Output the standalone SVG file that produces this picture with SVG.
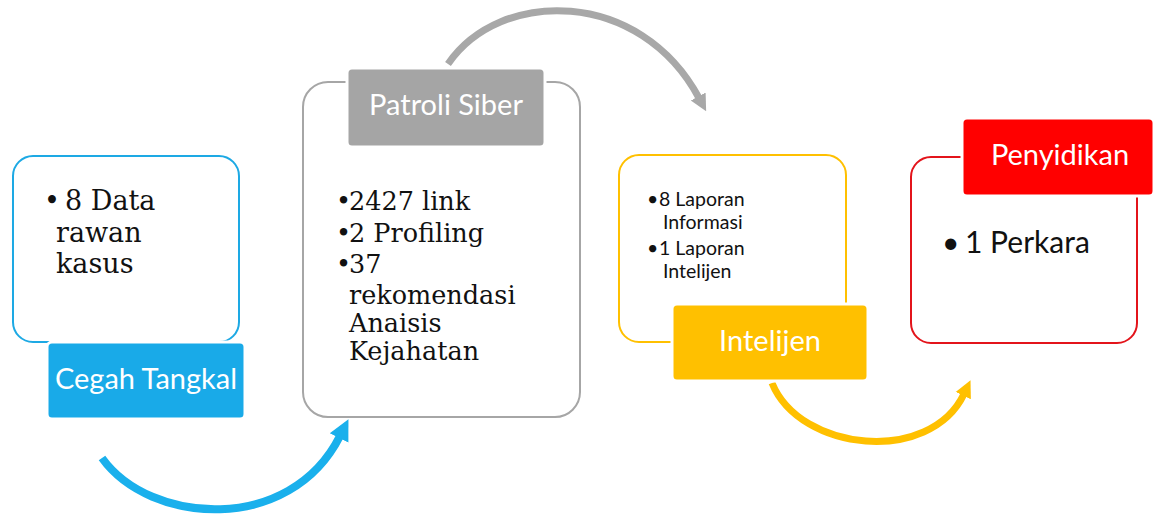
<svg xmlns="http://www.w3.org/2000/svg" width="1155" height="515" viewBox="0 0 1155 515">
<defs>
<style>
.outline{fill:#fff;stroke-width:2}
.label{stroke:#fff;stroke-width:3}
.ltxt{font-family:Lato,"Open Sans","Liberation Sans",sans-serif;font-size:29px;fill:#fff;text-anchor:middle}
.serif{font-family:"DejaVu Serif","Liberation Serif",serif;fill:#111}
.sans{font-family:Lato,"Open Sans","Liberation Sans",sans-serif;fill:#111}
.arc{fill:none;stroke-linecap:butt}
</style>
<marker id="ahBlue" viewBox="0 0 10 10" refX="1" refY="5" markerWidth="2.6" markerHeight="2.8" orient="auto" markerUnits="strokeWidth"><path d="M0,0L10,5L0,10z" fill="#1AB0EC"/></marker>
<marker id="ahGray" viewBox="0 0 10 10" refX="1" refY="5" markerWidth="2.4" markerHeight="3" orient="auto" markerUnits="strokeWidth"><path d="M0,0L10,5L0,10z" fill="#A8A8A8"/></marker>
<marker id="ahYellow" viewBox="0 0 10 10" refX="1" refY="5" markerWidth="2.4" markerHeight="3" orient="auto" markerUnits="strokeWidth"><path d="M0,0L10,5L0,10z" fill="#FFC000"/></marker>
</defs>
<rect width="1155" height="515" fill="#fff"/>
<g id="connectors">
<path class="arc" d="M102,458 C150,525 290,535 340,436" stroke="#1AB0EC" stroke-width="8" marker-end="url(#ahBlue)"/>
<path class="arc" d="M448,64 C500,-12 640,-12 699,98" stroke="#A8A8A8" stroke-width="7" marker-end="url(#ahGray)"/>
<path class="arc" d="M772,383 C800,452 930,465 964,394" stroke="#FFC000" stroke-width="7" marker-end="url(#ahYellow)"/>
</g>
<g id="cegah-tangkal">
<rect class="outline" x="13" y="156" width="226" height="186" rx="20" stroke="#1DA9E4"/>
<rect class="label" x="47" y="342" width="198" height="77" rx="5" fill="#19AAE8"/>
<text class="ltxt" x="146" y="389">Cegah Tangkal</text>
<text class="serif" font-size="27"><tspan x="44" y="210">•</tspan><tspan x="65" y="210">8 Data</tspan><tspan x="56" y="242">rawan</tspan><tspan x="56" y="273">kasus</tspan></text>
</g>
<g id="patroli-siber">
<rect class="outline" x="303" y="82" width="277" height="335" rx="25" stroke="#A6A6A6"/>
<rect class="label" x="347" y="68" width="198" height="79" rx="5" fill="#A5A5A5"/>
<text class="ltxt" x="446" y="115">Patroli Siber</text>
<text class="serif" font-size="25.5"><tspan x="336" y="210">•</tspan><tspan x="349" y="210">2427 link</tspan><tspan x="336" y="242">•</tspan><tspan x="349" y="242">2 Profiling</tspan><tspan x="336" y="273">•</tspan><tspan x="349" y="273">37</tspan><tspan x="349" y="304">rekomendasi</tspan><tspan x="349" y="332">Anaisis</tspan><tspan x="349" y="360">Kejahatan</tspan></text>
</g>
<g id="intelijen">
<rect class="outline" x="619" y="155" width="227" height="187" rx="20" stroke="#FFC000"/>
<rect class="label" x="672" y="304" width="196" height="77" rx="5" fill="#FFC000"/>
<text class="ltxt" x="770" y="351">Intelijen</text>
<text class="sans" font-size="19.5"><tspan x="647" y="206">•</tspan><tspan x="659" y="206">8 Laporan</tspan><tspan x="663" y="229">Informasi</tspan><tspan x="647" y="255">•</tspan><tspan x="659" y="255">1 Laporan</tspan><tspan x="663" y="278">Intelijen</tspan></text>
</g>
<g id="penyidikan">
<rect class="outline" x="911" y="157" width="226" height="186" rx="20" stroke="#E3141B"/>
<rect class="label" x="962" y="118" width="192" height="78" rx="5" fill="#FF0000"/>
<text class="ltxt" x="1060" y="165">Penyidikan</text>
<text class="sans" font-size="30"><tspan x="942" y="253">•</tspan><tspan x="965" y="253">1 Perkara</tspan></text>
</g>
</svg>
